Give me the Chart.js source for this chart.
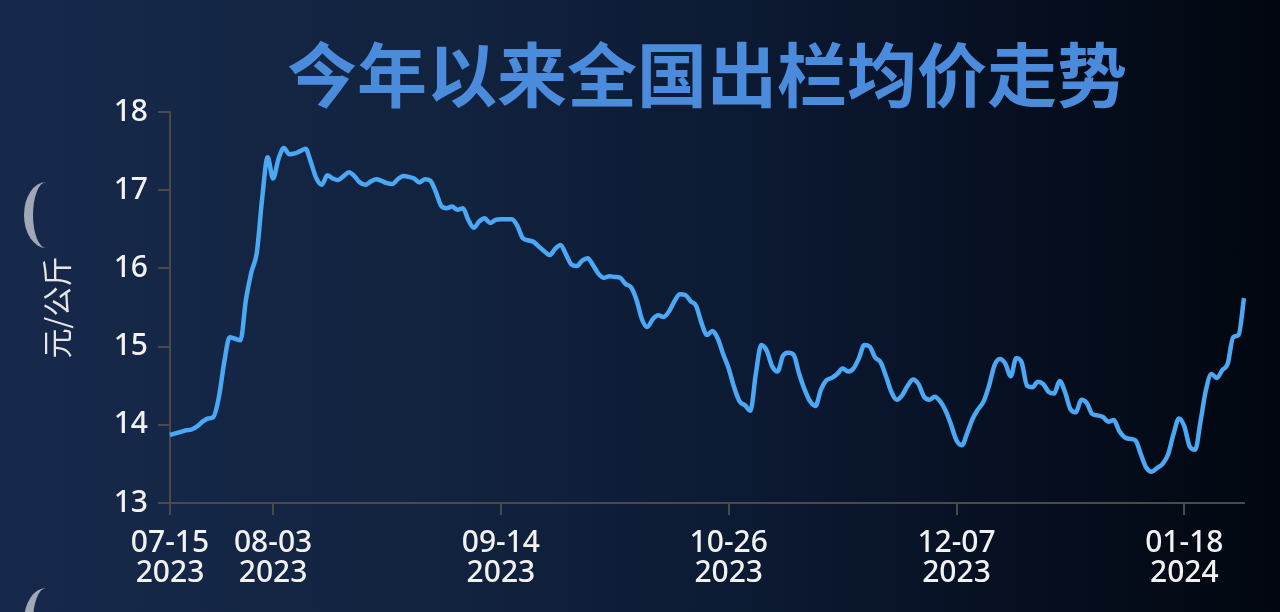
<!DOCTYPE html>
<html>
<head>
<meta charset="utf-8">
<script src="https://cdn.jsdelivr.net/npm/chart.js@4.4.0/dist/chart.umd.min.js"></script>
<style>
html, body {
	margin: 0;
	padding: 0;
	width: 1280px;
	height: 612px;
	overflow: hidden;
	background: linear-gradient(to right, #17294b 0%, #12233f 35%, #0b1830 62%, #050d1c 85%, #02070f 100%);
}
#wrap {
	position: absolute;
	left: 0;
	top: 0;
	width: 1280px;
	height: 612px;
}
.arc {
	position: absolute;
	left: 24px;
	width: 44px;
	height: 66px;
	border-radius: 50%;
	border-left: 9px solid rgba(195, 200, 210, 0.8);
	box-sizing: border-box;
}
</style>
</head>
<body>
<div class="arc" style="top:182px"></div>
<div class="arc" style="top:588px"></div>
<div id="wrap"><canvas id="price"></canvas></div>
<script>
var titleText = '今年以来全国出栏均价走势';
var unitText = '元/公斤';

// axis ticks shown on the date axis (index into the daily series)
var tickIdx = [0, 19, 61, 103, 145, 187];
var tickDates = ['07-15', '08-03', '09-14', '10-26', '12-07', '01-18'];
var tickYears = ['2023', '2023', '2023', '2023', '2023', '2024'];

// daily average price, 2023-07-15 .. 2024-01-29
var prices = [
	13.87, 13.89, 13.91, 13.93, 13.94, 13.98, 14.04, 14.08, 14.10, 14.35,
	14.80, 15.12, 15.10, 15.08, 15.60, 15.95, 16.20, 16.90, 17.42, 17.15,
	17.40, 17.54, 17.46, 17.47, 17.50, 17.53, 17.35, 17.15, 17.07, 17.19,
	17.15, 17.13, 17.18, 17.23, 17.18, 17.10, 17.07, 17.11, 17.14, 17.12,
	17.09, 17.08, 17.14, 17.18, 17.17, 17.15, 17.10, 17.14, 17.12, 16.98,
	16.80, 16.77, 16.79, 16.75, 16.77, 16.62, 16.52, 16.60, 16.64, 16.58,
	16.62, 16.63, 16.63, 16.63, 16.55, 16.39, 16.36, 16.34, 16.28, 16.22,
	16.17, 16.25, 16.30, 16.18, 16.05, 16.03, 16.10, 16.13, 16.04, 15.93,
	15.88, 15.90, 15.89, 15.88, 15.80, 15.76, 15.60, 15.35, 15.25, 15.35,
	15.40, 15.38, 15.45, 15.58, 15.67, 15.66, 15.58, 15.52, 15.30, 15.15,
	15.20, 15.10, 14.90, 14.72, 14.48, 14.30, 14.25, 14.18, 14.65, 15.02,
	14.95, 14.75, 14.68, 14.88, 14.92, 14.89, 14.65, 14.45, 14.30, 14.24,
	14.45, 14.57, 14.60, 14.65, 14.72, 14.68, 14.72, 14.85, 15.02, 15.00,
	14.86, 14.80, 14.62, 14.42, 14.32, 14.38, 14.50, 14.58, 14.52, 14.36,
	14.32, 14.36, 14.30, 14.18, 14.00, 13.80, 13.74, 13.90, 14.08, 14.20,
	14.30, 14.50, 14.76, 14.84, 14.78, 14.62, 14.85, 14.80, 14.50, 14.48,
	14.55, 14.52, 14.42, 14.40, 14.56, 14.42, 14.20, 14.16, 14.32, 14.28,
	14.14, 14.12, 14.10, 14.04, 14.06, 13.92, 13.84, 13.82, 13.80, 13.62,
	13.45, 13.40, 13.45, 13.50, 13.62, 13.88, 14.08, 13.98, 13.72, 13.68,
	14.05, 14.45, 14.65, 14.60, 14.70, 14.78, 15.12, 15.15, 15.62
];

function dayLabels(n) {
	var out = [];
	var d = new Date(2023, 6, 15);
	for (var i = 0; i < n; i++) {
		var m = ('0' + (d.getMonth() + 1)).slice(-2);
		var day = ('0' + d.getDate()).slice(-2);
		out.push(d.getFullYear() + '-' + m + '-' + day);
		d.setDate(d.getDate() + 1);
	}
	return out;
}

var tickFont = { family: '"Noto Sans", "Noto Sans CJK SC", sans-serif', size: 30, weight: '500', lineHeight: 1.0 };

var ctx = document.getElementById('price').getContext('2d');
var chart = new Chart(ctx, {
	type: 'line',
	data: {
		labels: dayLabels(prices.length),
		datasets: [{
			label: titleText,
			data: prices,
			borderColor: '#4aa8f4',
			borderWidth: 4.5,
			pointRadius: 0,
			cubicInterpolationMode: 'monotone',
			fill: false
		}]
	},
	options: {
		responsive: true,
		maintainAspectRatio: false,
		animation: false,
		layout: { padding: { left: 0, right: 36, top: 0, bottom: 0 } },
		plugins: {
			legend: { display: false },
			tooltip: { enabled: false },
			title: {
				display: true,
				text: titleText,
				fullSize: false,
				color: '#4b8bdb',
				font: { family: '"Noto Sans CJK SC", sans-serif', size: 70, weight: 'bold', lineHeight: 1 },
				padding: { top: 40, bottom: 2 }
			}
		},
		scales: {
			x: {
				type: 'category',
				offset: false,
				grid: { drawOnChartArea: false, tickLength: 12, color: '#4a4a4a', lineWidth: 2 },
				border: { color: '#4a4a4a', width: 2 },
				ticks: {
					autoSkip: false,
					maxRotation: 0,
					padding: 13,
					color: '#f2f2f2',
					font: tickFont,
					callback: function(val, index) {
						var k = tickIdx.indexOf(index);
						if (k < 0) return null;
						return [tickDates[k], tickYears[k]];
					}
				},
				afterFit: function(scale) { scale.height = 109; }
			},
			y: {
				min: 13,
				max: 18,
				grid: { drawOnChartArea: false, tickLength: 12, color: '#4a4a4a', lineWidth: 2 },
				border: { color: '#4a4a4a', width: 2 },
				ticks: {
					stepSize: 1,
					padding: 10,
					color: '#f2f2f2',
					font: tickFont
				},
				title: {
					display: true,
					text: unitText,
					color: '#e6e6e6',
					font: { family: '"Noto Sans CJK SC", sans-serif', size: 30, lineHeight: 1.1 },
					padding: { top: 40, bottom: 0 }
				},
				afterFit: function(scale) { scale.width = 170; }
			}
		}
	}
});
</script>
</body>
</html>
